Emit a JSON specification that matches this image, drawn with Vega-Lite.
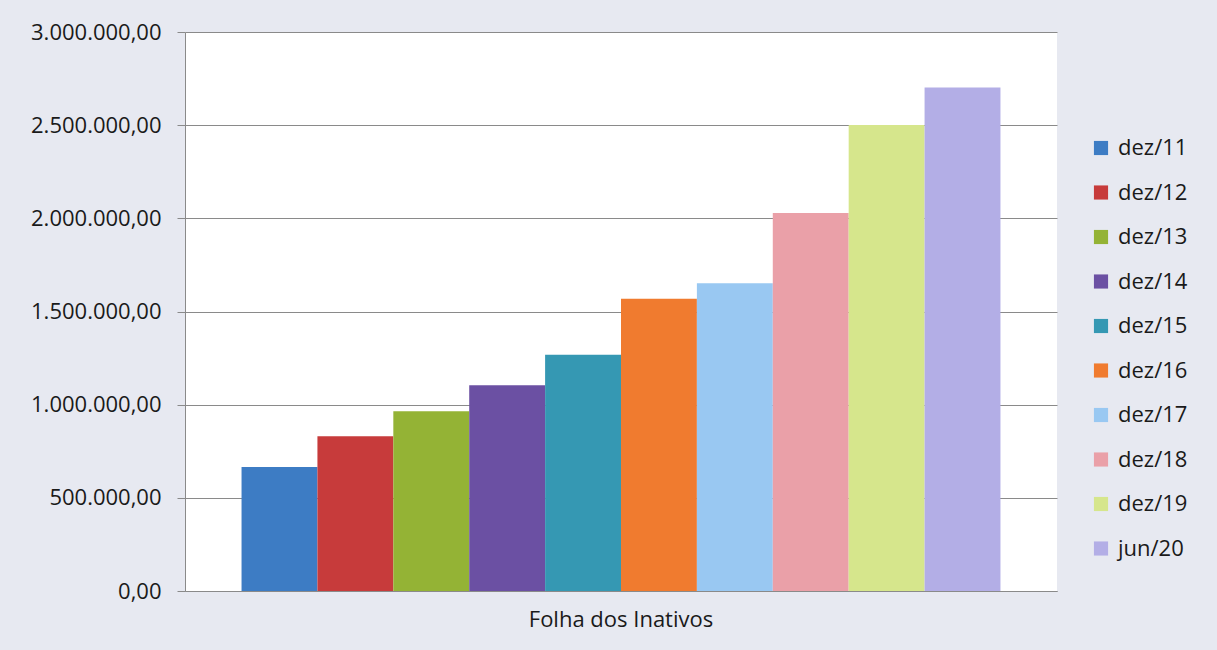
{
  "$schema": "https://vega.github.io/schema/vega-lite/v6.json",
  "width": 872,
  "height": 559,
  "autosize": {"type": "none"},
  "padding": {"left": 185, "top": 32, "right": 160, "bottom": 59},
  "background": "#e7e9f1",
  "config": {
    "view": {"fill": "white", "stroke": null},
    "font": "Open Sans"
  },
  "data": {
    "values": [
      {"grupo": "Folha dos Inativos", "periodo": "dez/11", "valor": 665000},
      {"grupo": "Folha dos Inativos", "periodo": "dez/12", "valor": 831000},
      {"grupo": "Folha dos Inativos", "periodo": "dez/13", "valor": 965000},
      {"grupo": "Folha dos Inativos", "periodo": "dez/14", "valor": 1104000},
      {"grupo": "Folha dos Inativos", "periodo": "dez/15", "valor": 1268000},
      {"grupo": "Folha dos Inativos", "periodo": "dez/16", "valor": 1568000},
      {"grupo": "Folha dos Inativos", "periodo": "dez/17", "valor": 1652000},
      {"grupo": "Folha dos Inativos", "periodo": "dez/18", "valor": 2029000},
      {"grupo": "Folha dos Inativos", "periodo": "dez/19", "valor": 2501000},
      {"grupo": "Folha dos Inativos", "periodo": "jun/20", "valor": 2702000}
    ]
  },
  "mark": {"type": "bar"},
  "encoding": {
    "x": {
      "field": "grupo",
      "type": "nominal",
      "scale": {"paddingInner": 0, "paddingOuter": 0.0745},
      "axis": {
        "title": null,
        "labelAngle": 0,
        "labelFontSize": 22,
        "labelLimit": 0,
        "labelColor": "#1a1a1a",
        "labelPadding": 18,
        "ticks": false,
        "domainColor": "#8a8a8a",
        "grid": false
      }
    },
    "xOffset": {
      "field": "periodo",
      "type": "nominal",
      "sort": ["dez/11","dez/12","dez/13","dez/14","dez/15","dez/16","dez/17","dez/18","dez/19","jun/20"],
      "scale": {"paddingInner": 0, "paddingOuter": 0}
    },
    "y": {
      "field": "valor",
      "type": "quantitative",
      "scale": {"domain": [0, 3000000], "nice": false},
      "axis": {
        "title": null,
        "values": [0, 500000, 1000000, 1500000, 2000000, 2500000, 3000000],
        "labelExpr": "replace(replace(replace(format(datum.value, ',.2f'), regexp(',', 'g'), 'X'), regexp('\\\\.', 'g'), ','), regexp('X', 'g'), '.')",
        "labelFontSize": 22,
        "labelColor": "#1a1a1a",
        "labelPadding": 16,
        "tickSize": 8,
        "tickColor": "#8a8a8a",
        "domainColor": "#8a8a8a",
        "gridColor": "#8a8a8a",
        "gridWidth": 1
      }
    },
    "color": {
      "field": "periodo",
      "type": "nominal",
      "sort": ["dez/11","dez/12","dez/13","dez/14","dez/15","dez/16","dez/17","dez/18","dez/19","jun/20"],
      "scale": {
        "domain": ["dez/11","dez/12","dez/13","dez/14","dez/15","dez/16","dez/17","dez/18","dez/19","jun/20"],
        "range": ["#3d7cc4","#c73b3b","#94b335","#6b50a3","#3598b3","#f07b2f","#99c8f2","#eaa0a8","#d6e68c","#b3aee6"]
      },
      "legend": {
        "title": null,
        "orient": "none",
        "legendX": 905,
        "legendY": 105,
        "symbolType": "square",
        "symbolSize": 200,
        "symbolStrokeWidth": 0,
        "labelFontSize": 22,
        "labelColor": "#1a1a1a",
        "labelOffset": 6,
        "rowPadding": 22.5
      }
    }
  }
}
